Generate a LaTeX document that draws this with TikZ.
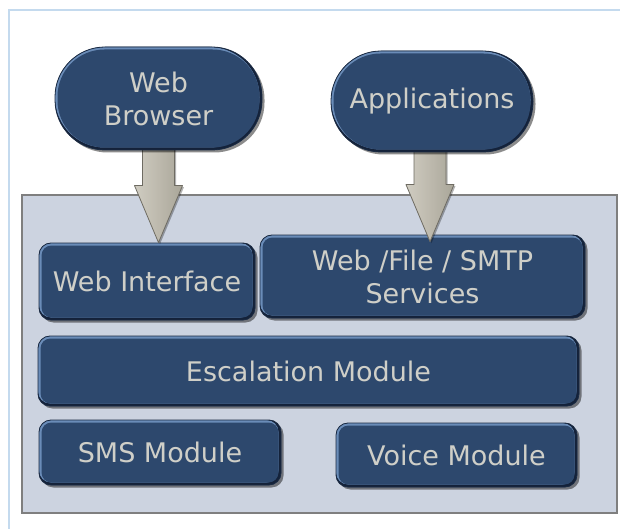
\documentclass[tikz,border=0pt]{standalone}
\usepackage{fontspec}
\newfontfamily\vfont{DejaVu Sans}
\usetikzlibrary{calc,shadows}
\definecolor{boxblue}{HTML}{2D486D}
\definecolor{rimlight}{HTML}{6A8CB8}
\definecolor{rimdark}{HTML}{14223A}
\definecolor{boxedge}{HTML}{1A2A42}
\definecolor{txt}{HTML}{CFCFC8}
\definecolor{panelfill}{HTML}{CCD3E0}
\definecolor{paneledge}{HTML}{7F7F7F}
\definecolor{framec}{HTML}{C4DAEE}
\definecolor{arrL}{HTML}{CFCCC1}
\definecolor{arrM}{HTML}{BDB9AD}
\definecolor{arrR}{HTML}{A9A699}
\definecolor{arrE}{HTML}{6E6B62}
\pgfdeclarelayer{front}
\pgfsetlayers{main,front}
\tikzset{
  bevel/.style 2 args={rounded corners=#1, draw=boxedge, line width=0.8pt,
    fill=boxblue, text=txt, font=\vfont\fontsize{27}{33}\selectfont,
    align=center, inner sep=0pt,
    drop shadow={shadow xshift=2.5pt, shadow yshift=-2.5pt, opacity=.45, fill=black},
    path picture={
      \fill[rimdark] (path picture bounding box.south west) rectangle (path picture bounding box.north east);
      \fill[rimlight, rounded corners=#1] (path picture bounding box.north west) rectangle ($(path picture bounding box.south east)+(-2.5pt,2.5pt)$);
      \fill[boxblue, rounded corners=#2] ($(path picture bounding box.north west)+(2.5pt,-2.5pt)$) rectangle ($(path picture bounding box.south east)+(-2.5pt,2.5pt)$);
    }},
  blk/.style={bevel={12pt}{10pt}},
  pill/.style={bevel={50pt}{47pt}},
  panelbox/.style={draw=paneledge, fill=panelfill, line width=1.5pt, inner sep=0pt},
  bigarrow/.style={left color=arrL, right color=arrR, middle color=arrM, draw=arrE, line width=0.8pt, line join=round,
    drop shadow={shadow xshift=1.5pt, shadow yshift=-1.5pt, opacity=.3, fill=black}},
  framelinestyle/.style={draw=framec, line width=1.5pt}
}
\begin{document}
\begin{tikzpicture}[x=1pt, y=-1pt]
\useasboundingbox (0,0) rectangle (620,529);
\fill[white] (0,0) rectangle (620,529);
\coordinate (fa) at (9,529);
\coordinate (fb) at (9,10);
\coordinate (fc) at (620,10);
\draw[framelinestyle] (fa) -- (fb) -- (fc);

\begin{pgfonlayer}{front}
\node[pill, minimum width=207pt, minimum height=103pt] (wb) at (158.5,98.5) {Web\\Browser};
\node[pill, minimum width=202pt, minimum height=101pt] (app) at (432,101.5) {Applications};
\end{pgfonlayer}

\node[panelbox, minimum width=595pt, minimum height=318pt] (panel) at (319.5,354) {};

\node[blk, minimum width=216pt, minimum height=77pt] (wi) at (147,281.5) {Web Interface};
\node[blk, minimum width=325pt, minimum height=83pt] (ws) at (422.5,276.5) {Web /File / SMTP\\Services};
\node[blk, minimum width=541pt, minimum height=70pt] (esc) at (308.5,371) {Escalation Module};
\node[blk, minimum width=242pt, minimum height=65pt] (sms) at (160,452.5) {SMS Module};
\node[blk, minimum width=241pt, minimum height=64pt] (voice) at (456.5,455) {Voice Module};

\coordinate (tl) at (wb.south |- wi.north);
\coordinate (tr) at ($(app.south |- ws.north)+(-2pt,-7pt)$);
\coordinate (sl) at (wb.south);
\coordinate (sr) at ($(app.south)+(-2pt,0pt)$);

\draw[bigarrow] ($(sl)+(-16pt,6pt)$) -- ($(sl)+(16pt,6pt)$) -- ($(tl)+(16pt,57pt)$) -- ($(tl)+(24pt,57pt)$) -- (tl) -- ($(tl)+(-24pt,57pt)$) -- ($(tl)+(-16pt,57pt)$) -- cycle;
\draw[bigarrow] ($(sr)+(-16pt,6pt)$) -- ($(sr)+(16pt,6pt)$) -- ($(tr)+(16pt,57pt)$) -- ($(tr)+(24pt,57pt)$) -- (tr) -- ($(tr)+(-24pt,57pt)$) -- ($(tr)+(-16pt,57pt)$) -- cycle;
\end{tikzpicture}
\end{document}
